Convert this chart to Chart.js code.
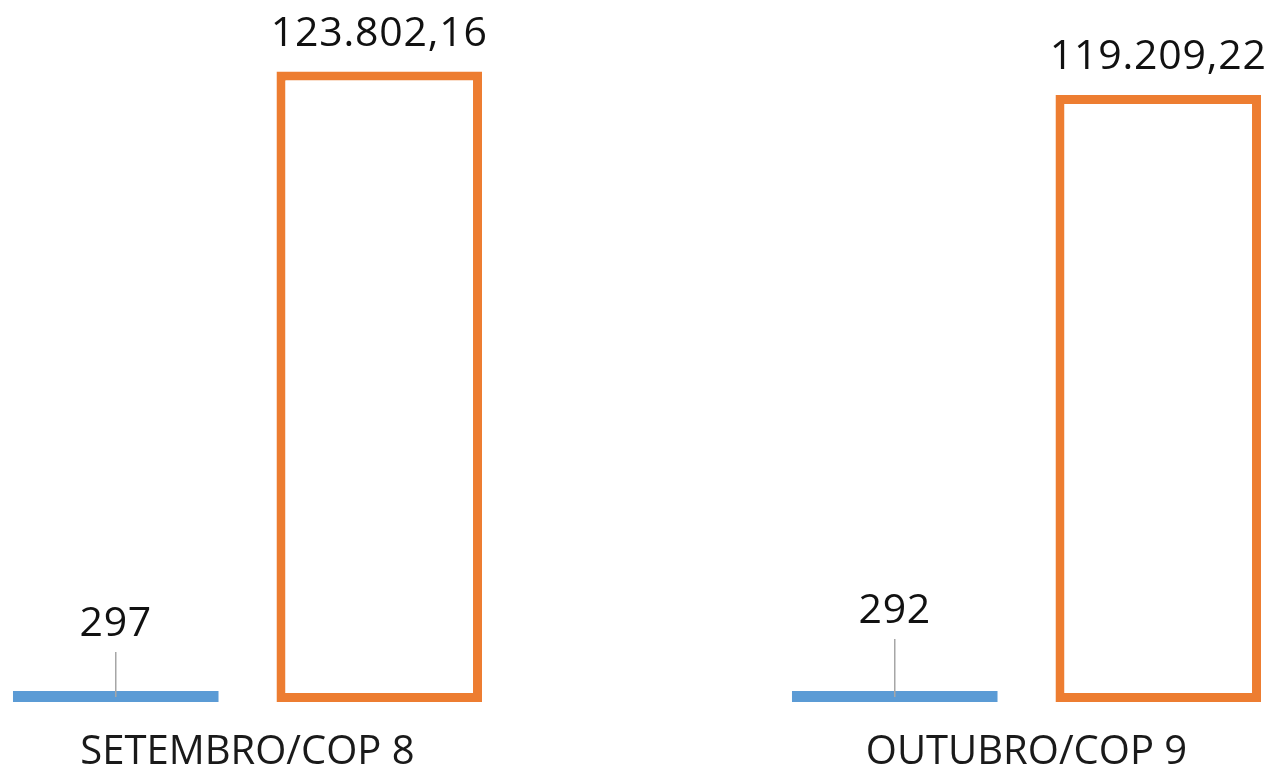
<!DOCTYPE html>
<html>
<head>
<meta charset="utf-8">
<script src="https://cdn.jsdelivr.net/npm/chart.js@4.4.0/dist/chart.umd.min.js"></script>
<style>
  html, body { margin: 0; padding: 0; background: #fff; overflow: hidden; }
  #wrap { position: absolute; left: -142px; top: 0; width: 1558px; height: 775px; }
</style>
</head>
<body>
<div id="wrap"><canvas id="chart"></canvas></div>
<script>
const categories = ['SETEMBRO/COP 8', 'OUTUBRO/COP 9'];
const blueValues = [297, 292];
const orangeValues = [123802.16, 119209.22];

// label placement tweaks (px above the bar), the blue ones were moved by hand in the original
const blueLabelLift = [55, 68];
const orangeLabelGap = 26;

const FONT = '"Open Sans", "Noto Sans", sans-serif';

function fmtBR(v) {
  const dec = Number.isInteger(v) ? 0 : 2;
  const parts = v.toFixed(dec).split('.');
  const int = parts[0].replace(/\B(?=(\d{3})+(?!\d))/g, '.');
  return parts[1] ? int + ',' + parts[1] : int;
}

const labelPlugin = {
  id: 'valueLabels',
  afterDatasetsDraw(chart) {
    const ctx = chart.ctx;
    ctx.save();
    ctx.font = '41px ' + FONT;
    ctx.letterSpacing = '0.8px';
    ctx.fillStyle = '#111';
    ctx.textAlign = 'center';
    ctx.textBaseline = 'alphabetic';

    chart.getDatasetMeta(0).data.forEach((bar, i) => {
      const base = bar.y - blueLabelLift[i];
      ctx.fillText(fmtBR(blueValues[i]), bar.x, base);
      ctx.strokeStyle = '#a6a6a6';
      ctx.lineWidth = 1.5;
      ctx.beginPath();
      ctx.moveTo(bar.x, base + 16);
      ctx.lineTo(bar.x, bar.y + 6);
      ctx.stroke();
    });
    chart.getDatasetMeta(1).data.forEach((bar, i) => {
      ctx.fillText(fmtBR(orangeValues[i]), bar.x, bar.y - orangeLabelGap);
    });
    ctx.restore();
  }
};

new Chart(document.getElementById('chart'), {
  type: 'bar',
  data: {
    labels: categories,
    datasets: [
      {
        label: 'Quantidade',
        data: blueValues,
        backgroundColor: '#5b9bd5',
        borderColor: '#5b9bd5',
        borderWidth: 0,
        minBarLength: 11,
        barPercentage: 0.78,
        categoryPercentage: 0.6765
      },
      {
        label: 'Valor',
        data: orangeValues,
        backgroundColor: '#ffffff',
        borderColor: '#ed7d31',
        borderWidth: 9,
        borderSkipped: false,
        barPercentage: 0.78,
        categoryPercentage: 0.6765
      }
    ]
  },
  options: {
    responsive: true,
    maintainAspectRatio: false,
    animation: false,
    layout: { padding: { top: 40, left: 0, right: 0, bottom: 0 } },
    plugins: {
      legend: { display: false },
      tooltip: { enabled: false }
    },
    scales: {
      x: {
        grid: { display: false, drawTicks: false },
        border: { display: false },
        ticks: {
          color: '#1a1a1a',
          font: { family: FONT, size: 40 },
          padding: 27
        },
        afterFit(scale) { scale.height = 73; }
      },
      y: {
        display: false,
        min: 0,
        max: 130000
      }
    }
  },
  plugins: [labelPlugin]
});
</script>
</body>
</html>
